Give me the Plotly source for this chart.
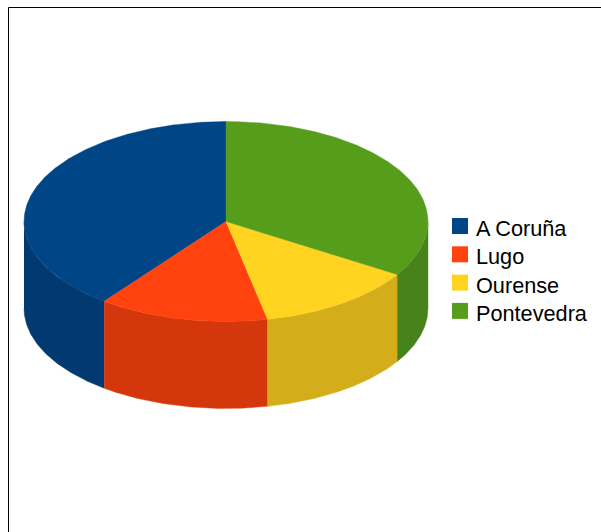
import numpy as np
import plotly.graph_objects as go

provinces = ["A Coruña", "Lugo", "Ourense", "Pontevedra"]
shares = [39.7, 13.6, 12.8, 33.9]
top_colors = ["#004586", "#ff420e", "#ffd320", "#579d1c"]
side_colors = ["#003a70", "#d4370b", "#d4ae1a", "#48821a"]

W, H = 601, 532
CX, CY, RX, RY, DEPTH = 226, 221.5, 202, 100, 87
KEY_X, KEY_TOP, KEY_STEP, KEY_TEXT_X, KEY_TEXT_TOP, KEY_TEXT_STEP = 460, 226, 28.3, 474, 228.5, 28.4

edges = np.cumsum([0] + shares) / sum(shares) * 2 * np.pi


def rim(a0, a1):
    t = np.linspace(a0, a1, max(int((a1 - a0) * 120), 2))
    return CX - RX * np.sin(t), CY - RY * np.cos(t)


fig = go.Figure()

# Side walls: only the front half of the cylinder is visible
for i, name in enumerate(provinces):
    a0, a1 = max(edges[i], np.pi / 2), min(edges[i + 1], 3 * np.pi / 2)
    if a1 <= a0:
        continue
    x, y = rim(a0, a1)
    fig.add_trace(go.Scatter(
        x=np.r_[x, x[::-1]], y=np.r_[y, y[::-1] + DEPTH],
        mode="lines", fill="toself", fillcolor=side_colors[i],
        line=dict(width=0.4, color=side_colors[i]),
        showlegend=False, hoverinfo="skip"))

# Top face
for i, name in enumerate(provinces):
    x, y = rim(edges[i], edges[i + 1])
    fig.add_trace(go.Scatter(
        x=np.r_[CX, x, CX], y=np.r_[CY, y, CY],
        mode="lines", fill="toself", fillcolor=top_colors[i],
        line=dict(width=0.4, color=top_colors[i]),
        showlegend=False, name=name))

# Key: swatches and labels
key_y = [KEY_TOP + i * KEY_STEP for i in range(len(provinces))]
fig.add_trace(go.Scatter(
    x=[KEY_X] * len(provinces), y=key_y, mode="markers",
    marker=dict(symbol="square", size=16, color=top_colors, line=dict(width=0)),
    text=provinces, hoverinfo="text", showlegend=False))

annotations = [
    dict(x=KEY_TEXT_X, y=KEY_TEXT_TOP + i * KEY_TEXT_STEP, xref="x", yref="y", text=name,
         showarrow=False, xanchor="left", yanchor="middle",
         font=dict(size=21.7, family="Liberation Sans", color="#000000"))
    for i, name in enumerate(provinces)
]

fig.update_layout(
    width=W, height=H, margin=dict(l=0, r=0, t=0, b=0),
    paper_bgcolor="white", plot_bgcolor="white",
    xaxis=dict(range=[0, W], visible=False, fixedrange=True),
    yaxis=dict(range=[H, 0], visible=False, fixedrange=True),
    font=dict(family="Liberation Sans", color="#000000"),
    showlegend=False,
    annotations=annotations,
    shapes=[
        dict(type="line", xref="x", yref="y", x0=8.5, x1=W, y0=7.5, y1=7.5,
             line=dict(color="black", width=1)),
        dict(type="line", xref="x", yref="y", x0=8.5, x1=8.5, y0=7.5, y1=H,
             line=dict(color="black", width=1)),
    ],
)

fig.write_html(
    "out.html", config=dict(displayModeBar=False),
    post_script="document.body.style.margin='0';document.documentElement.style.overflow='hidden';",
)
